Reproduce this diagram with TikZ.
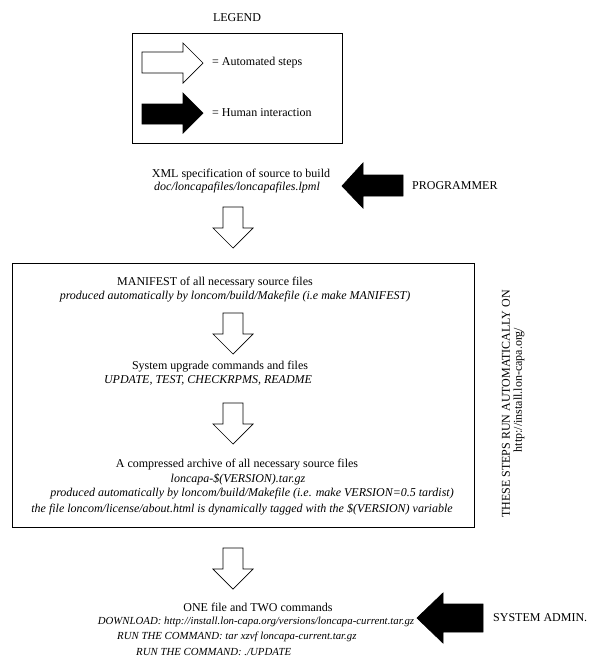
\documentclass[tikz,border=0pt]{standalone}
\usepackage{fontspec}
\setmainfont{Liberation Serif}
\usetikzlibrary{positioning}

\tikzset{
  textline/.style={inner sep=0pt, font=\fontsize{12}{13}\selectfont},
  noteline/.style={textline, font=\fontsize{12}{13}\selectfont\itshape},
  smallnote/.style={textline, font=\fontsize{10.8}{13}\selectfont\itshape},
  framebox/.style={draw, line width=0.9pt},
  autostep/.style={draw, fill=white, line width=0.7pt, line join=miter},
  humanstep/.style={draw, fill=black, line width=0.7pt, line join=miter},
}

\begin{document}
\begin{tikzpicture}[x=1pt, y=-1pt]
			\useasboundingbox (0,0) rectangle (601,670);
			% legend
			\node[textline] (legend) at (237,18) {LEGEND};
			\draw[framebox] (132,33) rectangle (342,143);
			\draw[autostep] (142,52) -- (183,52) -- (183,43) -- (203,63) -- (183,83) -- (183,73) -- (142,73) -- cycle;
			\draw[humanstep] (142,104) -- (183,104) -- (183,93) -- (203,113) -- (183,133) -- (183,124) -- (142,124) -- cycle;
			\node[textline, anchor=west] (autolabel) at (212,63) {= Automated steps};
			\node[textline, anchor=west] (humanlabel) at (212,113) {= Human interaction};
			% source specification
			\node[textline] (xmlspec) at (241,175) {XML specification of source to build};
			\node[noteline] (lpml) at (237,188) {doc/loncapafiles/loncapafiles.lpml};
			\draw[humanstep] (342,186) -- (363,163) -- (363,175) -- (403,175) -- (403,196) -- (363,196) -- (363,208) -- cycle;
			\node[textline, anchor=west] (programmer) at (412,186) {PROGRAMMER};
			% automatic steps
			\draw[framebox] (12,263) rectangle (474,527);
			\node[textline] (manifest) at (215,283) {MANIFEST of all necessary source files};
			\node[noteline] (manifestnote) at (235,297) {produced automatically by loncom/build/Makefile (i.e make MANIFEST)};
			\node[textline] (upgrade) at (220,367) {System upgrade commands and files};
			\node[noteline] (upgradefiles) at (208,380) {UPDATE, TEST, CHECKRPMS, README};
			\node[textline] (archive) at (237,465) {A compressed archive of all necessary source files};
			\node[noteline] (tarball) at (238,479) {loncapa-\$(VERSION).tar.gz};
			\node[noteline] (tarnote) at (252,494) {produced automatically by loncom/build/Makefile (i.e. make VERSION=0.5 tardist)};
			\node[noteline] (tagnote) at (242,509) {the file loncom/license/about.html is dynamically tagged with the \$(VERSION) variable};
			\node[textline, rotate=90] (runson) at (506,404) {THESE STEPS RUN AUTOMATICALLY ON};
			\node[textline, rotate=90] (runsurl) at (519,390) {http://install.lon-capa.org/};
			\foreach \y in {207,313,403,548}
				\draw[autostep] (223,\y) -- ++(20,0) -- ++(0,21) -- ++(10,0) -- ++(-20,20) -- ++(-20,-20) -- ++(10,0) -- cycle;
			% installation
			\node[textline] (onefile) at (258,607) {ONE file and TWO commands};
			\node[smallnote] (download) at (256,622) {DOWNLOAD: http://install.lon-capa.org/versions/loncapa-current.tar.gz};
			\node[smallnote, anchor=west] (untar) at (117,637) {RUN THE COMMAND: tar xzvf loncapa-current.tar.gz};
			\node[smallnote, anchor=west] (runupdate) at (136,652) {RUN THE COMMAND: ./UPDATE};
			\draw[humanstep] (417,618) -- (443,593) -- (443,604) -- (483,604) -- (483,632) -- (443,632) -- (443,643) -- cycle;
			\node[textline, anchor=west] (sysadmin) at (493,618) {SYSTEM ADMIN.};
		\end{tikzpicture}
\end{document}
